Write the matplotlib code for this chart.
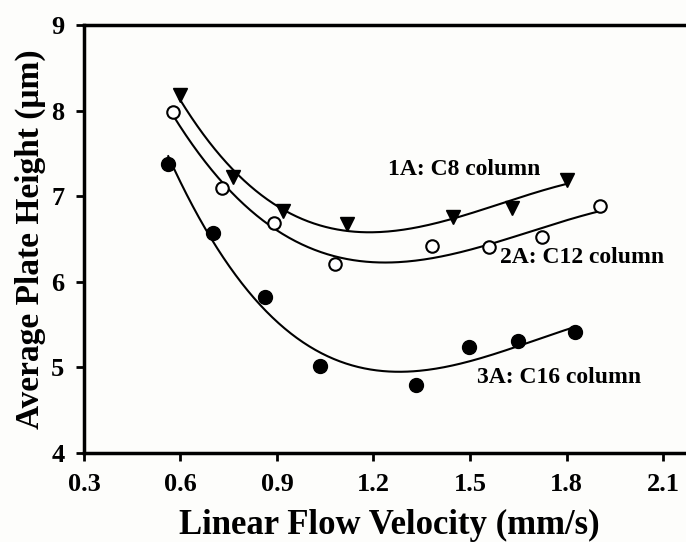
import numpy as np
import matplotlib.pyplot as plt

plt.rcParams['font.family'] = ['Liberation Serif', 'DejaVu Serif']
plt.rcParams['font.weight'] = 'bold'

# flow velocity (mm/s) and average plate height (um) for each column
u_c8 = [0.598, 0.763, 0.918, 1.117, 1.447, 1.630, 1.801]
h_c8 = [8.18, 7.22, 6.83, 6.68, 6.76, 6.86, 7.19]

u_c12 = [0.577, 0.729, 0.891, 1.080, 1.382, 1.559, 1.724, 1.904]
h_c12 = [7.98, 7.09, 6.69, 6.21, 6.42, 6.41, 6.52, 6.88]

u_c16 = [0.562, 0.700, 0.863, 1.034, 1.332, 1.497, 1.650, 1.826]
h_c16 = [7.38, 6.57, 5.82, 5.02, 4.79, 5.24, 5.31, 5.41]

labels = ['1A: C8 column', '2A: C12 column', '3A: C16 column']
label_xy = [(1.245, 7.31), (1.593, 6.28), (1.522, 4.88)]


def trend(u, h, deg=3):
    # polynomial regression line over the measured range
    coef = np.polyfit(u, h, deg)
    uu = np.linspace(min(u), max(u), 200)
    return uu, np.polyval(coef, uu)


fig = plt.figure(figsize=(6.86, 5.42), dpi=100)
fig.patch.set_facecolor('#fdfdfb')
ax = fig.add_axes([0.1224, 0.164, 0.891, 0.79])
ax.set_facecolor('#fdfdfb')

for u, h in [(u_c8, h_c8), (u_c12, h_c12), (u_c16, h_c16)]:
    uu, hh = trend(u, h)
    ax.plot(uu, hh, color='black', lw=1.5, zorder=2)

ax.plot(u_c8, h_c8, ls='', marker='v', ms=10, color='black', zorder=3)
ax.plot(u_c12, h_c12, ls='', marker='o', ms=9, mfc='white', mec='black', mew=1.5, zorder=3)
ax.plot(u_c16, h_c16, ls='', marker='o', ms=10, color='black', zorder=3)

for t, (x, y) in zip(labels, label_xy):
    ax.text(x, y, t, fontsize=17, fontweight='bold', va='center', ha='left')

ax.set_xlim(0.3, 2.2)
ax.set_ylim(4, 9)
ax.set_xticks(np.arange(0.3, 2.2, 0.3))
ax.set_xticklabels(['0.3', '0.6', '0.9', '1.2', '1.5', '1.8', '2.1'])
ax.set_yticks(range(4, 10))
ax.spines['right'].set_visible(False)
for s in ['left', 'bottom', 'top']:
    ax.spines[s].set_linewidth(2.5)
ax.tick_params(direction='out', length=6, width=2, labelsize=19, pad=8)
for lab in ax.get_xticklabels() + ax.get_yticklabels():
    lab.set_fontweight('bold')

ax.set_xlabel('Linear Flow Velocity (mm/s)', fontsize=25, fontweight='bold', labelpad=10)
ax.set_ylabel('Average Plate Height (\u03bcm)', fontsize=24, fontweight='bold', labelpad=4)

fig.savefig('out.png', dpi=100, facecolor=fig.get_facecolor())
